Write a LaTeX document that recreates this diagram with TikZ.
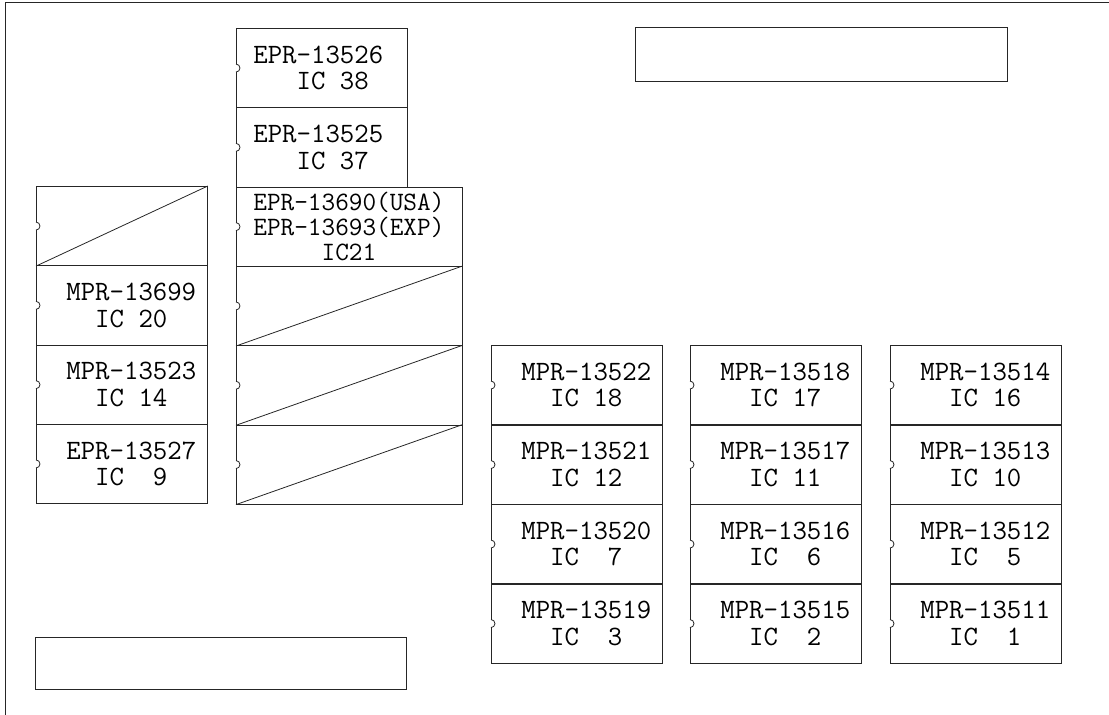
\documentclass[tikz,border=0pt]{standalone}
\usepackage{fontspec}
\usetikzlibrary{calc}
\newcommand\gp{\phantom{0}}
\tikzset{
  ln/.style={draw=black!85, line width=0.8pt},
  chip/.style={ln, rectangle, minimum width=171pt, minimum height=79.3pt, anchor=north west,
     inner ysep=0pt, inner xsep=30pt, text width=111pt, align=left,
     font=\ttfamily\fontsize{28}{26.5}\selectfont},
  topchip/.style={chip, inner xsep=17pt, text width=137pt},
  widechip/.style={chip, minimum width=226pt, inner xsep=17pt, text width=192pt,
     font=\ttfamily\fontsize{26.5}{25}\selectfont},
  panel/.style={ln, rectangle, inner sep=0pt, anchor=north west},
  notch/.style={ln},
  diag/.style={ln}
}
\begin{document}
\begin{tikzpicture}[x=1pt,y=-1pt]
\useasboundingbox (0,0) rectangle (1109,715);
% frame
\coordinate (ftl) at (5,2.5);
\coordinate (ftr) at (1109,2.5);
\coordinate (fbl) at (5,715);
\draw[ln] (ftr) -- (ftl) -- (fbl);
% panels
\node[panel, minimum width=372pt, minimum height=54pt] (ptop) at (635,27) {};
\node[panel, minimum width=371pt, minimum height=52pt] (pbot) at (35,637) {};
% left column
\node[chip] (L1) at (36,186) {};
\node[chip] (L2) at (36,265.3) {MPR-13699\\\gp\gp IC\gp 20};
\node[chip] (L3) at (36,344.6) {MPR-13523\\\gp\gp IC\gp 14};
\node[chip] (L4) at (36,423.9) {EPR-13527\\\gp\gp IC\gp\gp 9};
% middle column
\node[topchip] (M1) at (236,28) {EPR-13526\\\gp\gp\gp IC\gp 38};
\node[topchip] (M2) at (236,107.3) {EPR-13525\\\gp\gp\gp IC\gp 37};
\node[widechip] (M3) at (236,186.6) {EPR-13690(USA)\\EPR-13693(EXP)\\\gp\gp\gp\gp\gp IC21};
\node[widechip] (M4) at (236,265.9) {};
\node[widechip] (M5) at (236,345.2) {};
\node[widechip] (M6) at (236,424.5) {};
% right groups
\node[chip] (A1) at (491,345) {MPR-13522\\\gp\gp IC\gp 18};
\node[chip] (A2) at (491,424.5) {MPR-13521\\\gp\gp IC\gp 12};
\node[chip] (A3) at (491,504) {MPR-13520\\\gp\gp IC\gp\gp 7};
\node[chip] (A4) at (491,583.5) {MPR-13519\\\gp\gp IC\gp\gp 3};
\node[chip] (B1) at (690,345) {MPR-13518\\\gp\gp IC\gp 17};
\node[chip] (B2) at (690,424.5) {MPR-13517\\\gp\gp IC\gp 11};
\node[chip] (B3) at (690,504) {MPR-13516\\\gp\gp IC\gp\gp 6};
\node[chip] (B4) at (690,583.5) {MPR-13515\\\gp\gp IC\gp\gp 2};
\node[chip] (C1) at (890,345) {MPR-13514\\\gp\gp IC\gp 16};
\node[chip] (C2) at (890,424.5) {MPR-13513\\\gp\gp IC\gp 10};
\node[chip] (C3) at (890,504) {MPR-13512\\\gp\gp IC\gp\gp 5};
\node[chip] (C4) at (890,583.5) {MPR-13511\\\gp\gp IC\gp\gp 1};
% notches
\foreach \n in {L1,L2,L3,L4,M1,M2,M3,M4,M5,M6,A1,A2,A3,A4,B1,B2,B3,B4,C1,C2,C3,C4}{
  \fill[white] ($(\n.west)+(-0.7pt,-3.6pt)$) rectangle ($(\n.west)+(0.7pt,3.6pt)$);
  \draw[notch] ($(\n.west)+(0pt,4pt)$) arc[start angle=90, end angle=-90, radius=4pt];
}
% diagonals
\foreach \n in {L1,M4,M5,M6}{
  \draw[diag] (\n.south west) -- (\n.north east);
}
\end{tikzpicture}
\end{document}
